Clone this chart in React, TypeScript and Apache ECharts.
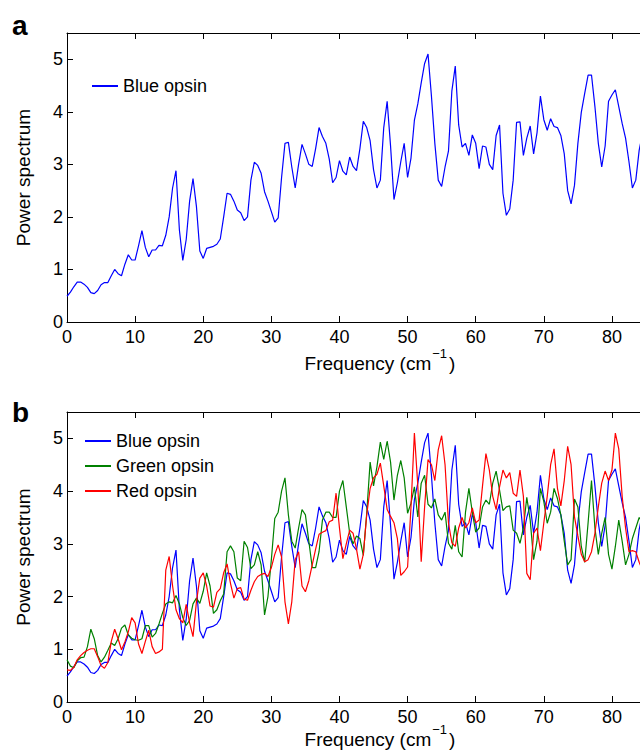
import React, { useEffect, useRef } from "react";
import * as echarts from "echarts";

// Sampling grid of the spectra (cm^-1): 0, 0.5, 1, ... 85
const FREQ_STEP = 0.5;

const blueOpsin = [
  0.49, 0.57, 0.67, 0.76, 0.76, 0.72, 0.66, 0.56, 0.54, 0.6,
  0.71, 0.75, 0.75, 0.88, 1.0, 0.92, 0.88, 1.1, 1.28, 1.18,
  1.18, 1.45, 1.74, 1.42, 1.24, 1.37, 1.37, 1.46, 1.45, 1.65,
  2.0, 2.55, 2.88, 1.75, 1.17, 1.57, 2.3, 2.73, 2.2, 1.35,
  1.21, 1.4, 1.42, 1.44, 1.48, 1.58, 2.0, 2.45, 2.43, 2.3,
  2.13, 2.08, 1.93, 2.0, 2.7, 3.04, 2.98, 2.83, 2.48, 2.3,
  2.1, 1.9, 1.98, 2.75, 3.4, 3.42, 2.95, 2.55, 3.0, 3.38,
  3.2, 3.0, 2.96, 3.3, 3.7, 3.53, 3.4, 3.1, 2.65, 2.75,
  3.07, 2.87, 2.8, 3.14, 2.96, 2.88, 3.3, 3.82, 3.7, 3.45,
  2.9, 2.55, 2.7, 3.7, 4.2, 3.35, 2.33, 2.65, 3.05, 3.4,
  2.75, 3.12, 3.84, 4.15, 4.55, 4.92, 5.1, 4.3, 3.4, 2.7,
  2.58, 2.95, 3.25, 4.4, 4.87, 3.75, 3.33, 3.4, 3.17, 3.56,
  3.4, 2.92, 3.35, 3.33, 3.0, 2.9, 3.55, 3.75, 2.45, 2.03,
  2.15, 2.7, 3.8, 3.81, 3.17, 3.5, 3.73, 3.2, 3.6, 4.3,
  3.85, 3.65, 3.87, 3.72, 3.7, 3.55, 3.2, 2.5, 2.25, 2.6,
  3.4, 3.99, 4.35, 4.7, 4.7, 4.1, 3.4, 2.95, 3.35, 4.2,
  4.32, 4.42, 4.1, 3.78, 3.5, 3.05, 2.55, 2.7, 3.27, 3.6,
  3.75,
];

const greenOpsin = [
  0.8, 0.68, 0.65, 0.78, 0.84, 0.85, 1.05, 1.38, 1.2, 0.88,
  0.76, 0.85, 0.98, 1.12, 1.07, 1.2, 1.4, 1.46, 1.27, 1.21,
  1.18, 1.17, 1.2, 1.45, 1.45, 1.23, 1.3, 1.48, 1.68, 1.86,
  1.9, 1.88, 2.02, 1.86, 1.6, 1.45, 1.55, 1.86, 1.97, 1.87,
  2.1, 2.45, 2.2, 1.68, 1.75, 1.92, 2.05, 2.85, 2.96, 2.85,
  2.35, 2.3, 3.05, 2.93, 2.53, 2.6, 2.85, 2.6, 1.65, 2.0,
  2.7, 3.48, 3.6, 4.0, 4.25, 3.55, 3.05, 2.92, 3.3, 3.65,
  3.55, 3.05, 2.55, 2.55, 2.85, 3.45, 3.6, 3.6, 3.5, 3.5,
  4.0, 4.2, 3.7, 3.2, 3.0, 3.15, 3.1, 2.78, 3.58, 4.55,
  4.1, 4.46, 4.93, 4.6, 4.95, 4.55, 3.83, 4.3, 4.58, 4.25,
  3.58, 3.77, 4.08, 3.51, 4.15, 4.3, 3.75, 3.68, 3.85, 3.55,
  3.45, 3.6, 3.01, 2.9, 3.35, 2.85, 2.75, 3.6, 4.05, 3.6,
  3.22, 3.3, 3.7, 3.83, 3.75, 4.15, 4.38, 4.02, 3.63, 3.7,
  3.72, 3.26, 3.2, 3.01, 3.3, 3.88, 3.45, 2.7, 3.05, 4.05,
  3.8, 3.39, 3.6, 4.05, 3.86, 3.55, 3.05, 2.6, 2.7, 3.85,
  3.7, 2.95, 2.65, 3.4, 4.2, 3.3, 2.8, 3.2, 3.5, 2.8,
  2.52, 2.95, 3.45, 3.05, 2.6, 2.8, 3.1, 3.3, 3.5, 3.4,
  3.3,
];

const redOpsin = [
  0.61, 0.6, 0.66, 0.8, 0.88, 0.94, 0.98, 1.01, 1.01, 0.86,
  0.69, 0.64, 0.75, 1.15, 1.38, 1.2, 0.99, 1.14, 1.33, 1.6,
  1.5, 1.1, 0.92, 1.15, 1.36, 1.05, 0.92, 0.95, 1.0, 2.5,
  2.76, 2.2, 1.75, 1.58, 1.5, 1.85, 1.5, 1.24, 1.9, 2.35,
  2.45, 2.2, 1.82, 1.8, 2.08, 2.15, 2.45, 2.62, 2.25, 1.97,
  2.15, 2.17, 1.95, 1.93, 2.12, 2.28, 2.38, 2.42, 2.44, 2.38,
  2.55, 2.8, 2.98, 2.75, 1.9, 1.48, 1.9, 2.7, 2.85, 2.2,
  2.09, 2.3, 2.6, 2.9, 3.18, 3.22, 3.25, 3.42, 3.45, 3.96,
  3.3, 2.72, 3.0, 3.26, 3.2, 2.9, 2.52, 2.8, 3.55, 4.05,
  4.25, 4.32, 4.53, 4.1, 3.65, 3.52, 3.4, 3.1, 2.4, 2.47,
  2.56, 3.7, 5.1, 4.1, 2.66, 3.7, 4.6, 4.5, 4.2, 4.78,
  5.05, 4.5, 3.4, 3.02, 2.95, 3.3, 3.5, 3.3, 3.4, 3.68,
  3.4, 3.45, 4.1, 4.71, 4.4, 3.9, 3.65, 4.08, 4.4, 4.25,
  4.35, 3.96, 3.9, 4.4, 3.9, 2.44, 2.32, 3.2, 3.3, 2.87,
  3.4, 3.9, 4.5, 4.8, 4.05, 3.72, 4.2, 4.85, 4.5, 3.51,
  3.15, 2.8, 2.66, 2.7, 2.85, 3.2, 3.7, 4.15, 4.38, 4.2,
  4.4, 5.1, 4.8, 3.9, 3.3, 2.85, 2.87, 2.85, 2.65, 2.5,
  2.5,
];

const SERIES_NAMES = ["Blue opsin", "Green opsin", "Red opsin"];
const SERIES_COLORS = ["#0000ff", "#008000", "#ff0000"];
const PANEL_LABELS = ["a", "b"];
const X_MIN = 0;
const X_MAX = 85;
const X_INTERVAL = 10;
const Y_MIN = 0;
const Y_MAX = 5.5;
const Y_INTERVAL = 1;
const X_TITLE = "Frequency (cm";
const X_TITLE_SUP = "\u22121";
const Y_TITLE = "Power spectrum";

const FONT = "'Liberation Sans', Arial, Helvetica, sans-serif";

function pairs(values: number[]) {
  return values.map((v, i) => [i * FREQ_STEP, v]);
}

export default function App() {
  const ref = useRef<HTMLDivElement>(null);

  useEffect(() => {
    if (!ref.current) return;
    const chart = echarts.init(ref.current, undefined, { renderer: "svg" });

    const grids = [
      { left: 67, top: 33, width: 579, height: 289 },
      { left: 67, top: 412, width: 579, height: 290 },
    ];

    const lineStyle = { color: "#000", width: 1 };
    const tick = { show: true, inside: true, length: 6, lineStyle };

    const xAxes: any[] = [];
    const yAxes: any[] = [];
    [0, 1].forEach((g) => {
      xAxes.push({
        type: "value",
        gridIndex: g,
        position: "bottom",
        min: X_MIN,
        max: X_MAX,
        interval: X_INTERVAL,
        axisLine: { show: true, onZero: false, lineStyle },
        axisTick: tick,
        splitLine: { show: false },
        axisLabel: {
          color: "#000",
          fontSize: 18,
          fontFamily: FONT,
          margin: 6,
          showMaxLabel: false,
        },
      });
      xAxes.push({
        type: "value",
        gridIndex: g,
        position: "top",
        min: X_MIN,
        max: X_MAX,
        interval: X_INTERVAL,
        axisLine: { show: true, onZero: false, lineStyle },
        axisTick: tick,
        splitLine: { show: false },
        axisLabel: { show: false },
      });
      yAxes.push({
        type: "value",
        gridIndex: g,
        position: "left",
        min: Y_MIN,
        max: Y_MAX,
        interval: Y_INTERVAL,
        name: Y_TITLE,
        nameLocation: "middle",
        nameGap: 34,
        nameTextStyle: { color: "#000", fontSize: 19, fontFamily: FONT },
        axisLine: { show: true, onZero: false, lineStyle },
        axisTick: tick,
        splitLine: { show: false },
        axisLabel: {
          color: "#000",
          fontSize: 18,
          fontFamily: FONT,
          margin: 4,
          showMaxLabel: false,
        },
      });
      yAxes.push({
        type: "value",
        gridIndex: g,
        position: "right",
        min: Y_MIN,
        max: Y_MAX,
        interval: Y_INTERVAL,
        axisLine: { show: true, onZero: false, lineStyle },
        axisTick: tick,
        splitLine: { show: false },
        axisLabel: { show: false },
      });
    });

    const mk = (name: string, color: string, values: number[], g: number) => ({
      type: "line",
      name,
      xAxisIndex: g * 2,
      yAxisIndex: g * 2,
      data: pairs(values),
      showSymbol: false,
      symbol: "none",
      lineStyle: { color, width: 1.2 },
      itemStyle: { color },
      emphasis: { disabled: true },
    });

    const legendCommon = {
      icon: "rect",
      itemWidth: 26,
      itemHeight: 2,
      padding: 0,
      selectedMode: false,
      textStyle: { color: "#000", fontSize: 18, fontFamily: FONT },
    };

    const xTitle = (y: number) => ({
      type: "text",
      x: 380,
      y,
      style: {
        text: `{a|${X_TITLE}}{s|${X_TITLE_SUP}}{a|)}`,
        align: "center",
        verticalAlign: "middle",
        fill: "#000",
        rich: {
          a: { fontSize: 19, fontFamily: FONT, fill: "#000", lineHeight: 26, verticalAlign: "bottom" },
          s: { fontSize: 13, fontFamily: FONT, fill: "#000", lineHeight: 26, verticalAlign: "top", padding: [0, 2, 0, 1] },
        },
      },
    });

    const panelLabel = (text: string, y: number) => ({
      type: "text",
      x: 12,
      y,
      style: {
        text,
        fill: "#000",
        font: `bold 28px ${FONT}`,
        verticalAlign: "bottom",
      },
    });

    chart.setOption({
      animation: false,
      backgroundColor: "#fff",
      grid: grids,
      xAxis: xAxes,
      yAxis: yAxes,
      legend: [
        {
          ...legendCommon,
          data: [SERIES_NAMES[0]],
          left: 92,
          top: 77,
        },
        {
          ...legendCommon,
          data: SERIES_NAMES,
          orient: "vertical",
          left: 85,
          top: 432,
          itemGap: 7,
        },
      ],
      series: [
        mk(SERIES_NAMES[0], SERIES_COLORS[0], blueOpsin, 0),
        mk(SERIES_NAMES[0], SERIES_COLORS[0], blueOpsin, 1),
        mk(SERIES_NAMES[1], SERIES_COLORS[1], greenOpsin, 1),
        mk(SERIES_NAMES[2], SERIES_COLORS[2], redOpsin, 1),
      ],
      graphic: [
        panelLabel(PANEL_LABELS[0], 39),
        panelLabel(PANEL_LABELS[1], 426),
        xTitle(360),
        xTitle(736),
      ],
    });

    return () => chart.dispose();
  }, []);

  return (
    <div
      style={{
        position: "absolute",
        left: 0,
        top: 0,
        width: 640,
        height: 751,
        overflow: "hidden",
        background: "#fff",
      }}
    >
      <div ref={ref} style={{ width: 660, height: 751 }} />
    </div>
  );
}
